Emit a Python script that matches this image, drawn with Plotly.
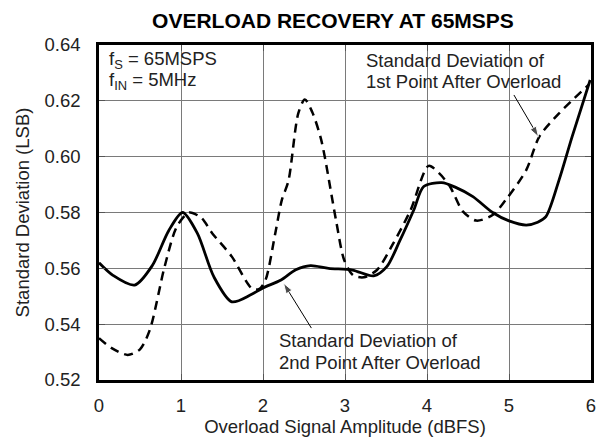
import plotly.graph_objects as go

# Overload amplitude (dBFS) and standard deviation (LSB)
x_2nd = [0.0, 0.17, 0.435, 0.65, 0.85, 1.02, 1.2, 1.4, 1.62, 1.85, 2.0, 2.22, 2.4, 2.58,
         2.8, 3.09, 3.35, 3.51, 3.67, 3.84, 3.96, 4.18, 4.35, 4.56, 4.8, 5.0, 5.21, 5.35,
         5.45, 5.61, 5.77, 5.99]
sd_2nd = [0.562, 0.5575, 0.554, 0.561, 0.5735, 0.580, 0.5725, 0.557, 0.548, 0.5505, 0.553,
          0.5558, 0.5595, 0.561, 0.560, 0.5594, 0.5573, 0.5606, 0.570, 0.581, 0.5893, 0.5907,
          0.589, 0.5857, 0.580, 0.577, 0.5755, 0.5765, 0.5785, 0.5916, 0.6072, 0.6275]

x_1st = [0.0, 0.15, 0.35, 0.5, 0.62, 0.8, 0.95, 1.1, 1.25, 1.38, 1.62, 1.86, 1.95, 2.03,
         2.15, 2.23, 2.31, 2.43, 2.51, 2.6, 2.71, 2.89, 2.99, 3.1, 3.23, 3.39, 3.59, 3.8,
         4.02, 4.15, 4.28, 4.44, 4.6, 4.8, 4.96, 5.21, 5.37, 5.61, 5.97]
sd_1st = [0.535, 0.5315, 0.529, 0.531, 0.538, 0.5606, 0.575, 0.580, 0.578, 0.5726, 0.5642,
          0.5529, 0.5525, 0.5558, 0.5726, 0.5845, 0.5913, 0.6155, 0.6205, 0.616, 0.606,
          0.5773, 0.563, 0.5575, 0.5568, 0.5594, 0.569, 0.5809, 0.5967, 0.594, 0.5893,
          0.5803, 0.5771, 0.5791, 0.5845, 0.5952, 0.6072, 0.6155, 0.6257]

x_ticks = [0, 1, 2, 3, 4, 5, 6]
y_ticks = [0.52, 0.54, 0.56, 0.58, 0.60, 0.62, 0.64]

FONT = "Liberation Sans, Arial, sans-serif"
TXT = "#222"
FS = 18.5

fig = go.Figure()
fig.add_trace(go.Scatter(x=x_1st, y=sd_1st, mode="lines",
                         line=dict(color="black", width=2.5, dash="9px,6px",
                                   shape="spline", smoothing=0.8),
                         showlegend=False, hoverinfo="skip"))
fig.add_trace(go.Scatter(x=x_2nd, y=sd_2nd, mode="lines",
                         line=dict(color="black", width=2.8, shape="spline", smoothing=0.8),
                         showlegend=False, hoverinfo="skip"))

# Leader arrows: tail -> head, arrowhead marker points along the segment
for (xt, yt), (xh, yh) in [((5.06, 0.6221), (5.36, 0.6071)),
                           ((2.59, 0.5386), (2.25, 0.5547))]:
    fig.add_trace(go.Scatter(x=[xt, xh], y=[yt, yh], mode="lines+markers",
                             line=dict(color="black", width=1),
                             marker=dict(symbol="arrow", angleref="previous",
                                         size=[0, 11], color="black"),
                             showlegend=False, hoverinfo="skip"))

# White panels behind the text blocks hide the grid there
for x0, x1, y0, y1 in [(0.0, 0.30, 0.85, 1.0), (0.535, 0.94, 0.85, 1.0),
                        (0.344, 0.787, 0.021, 0.143)]:
    fig.add_shape(type="rect", xref="paper", yref="paper", x0=x0, x1=x1, y0=y0, y1=y1,
                  fillcolor="white", line=dict(width=0), layer="between")

lines = [
    (0.0155, 0.955, "f<sub>S</sub> = 65MSPS"),
    (0.0155, 0.893, "f<sub>IN</sub> = 5MHz"),
    (0.539, 0.955, "Standard Deviation of"),
    (0.539, 0.890, "1st Point After Overload"),
    (0.362, 0.119, "Standard Deviation of"),
    (0.362, 0.051, "2nd Point After Overload"),
]
for xp, yp, t in lines:
    fig.add_annotation(x=xp, y=yp, xref="paper", yref="paper", text=t, showarrow=False,
                       xanchor="left", yanchor="middle",
                       font=dict(family=FONT, size=FS, color=TXT))

axis_common = dict(showline=True, linecolor="black", linewidth=2.5, mirror="allticks",
                   showgrid=True, gridcolor="#7a7a7a", gridwidth=1, zeroline=False,
                   ticks="inside", ticklen=6, tickwidth=1, tickcolor="#555",
                   tickfont=dict(family=FONT, size=FS, color=TXT))

fig.update_xaxes(range=[0, 6], tickvals=x_ticks, ticktext=[str(v) for v in x_ticks],
                 ticklabelstandoff=7,
                 title=dict(text="Overload Signal Amplitude (dBFS)",
                            font=dict(family=FONT, size=FS, color=TXT), standoff=5),
                 **axis_common)
fig.update_yaxes(range=[0.52, 0.64], tickvals=y_ticks, ticktext=[f"{v:.2f}" for v in y_ticks],
                 ticklabelstandoff=12,
                 title=dict(text="Standard Deviation (LSB)",
                            font=dict(family=FONT, size=FS, color=TXT), standoff=11),
                 **axis_common)

fig.update_layout(
    width=605, height=447,
    margin=dict(l=99, r=9, t=45, b=67),
    paper_bgcolor="white", plot_bgcolor="white",
    title=dict(text="<b>OVERLOAD RECOVERY AT 65MSPS</b>", x=0.5504, xanchor="center",
               y=0.954, yanchor="middle", font=dict(family=FONT, size=21, color="black")),
)

fig.write_html("out.html")
